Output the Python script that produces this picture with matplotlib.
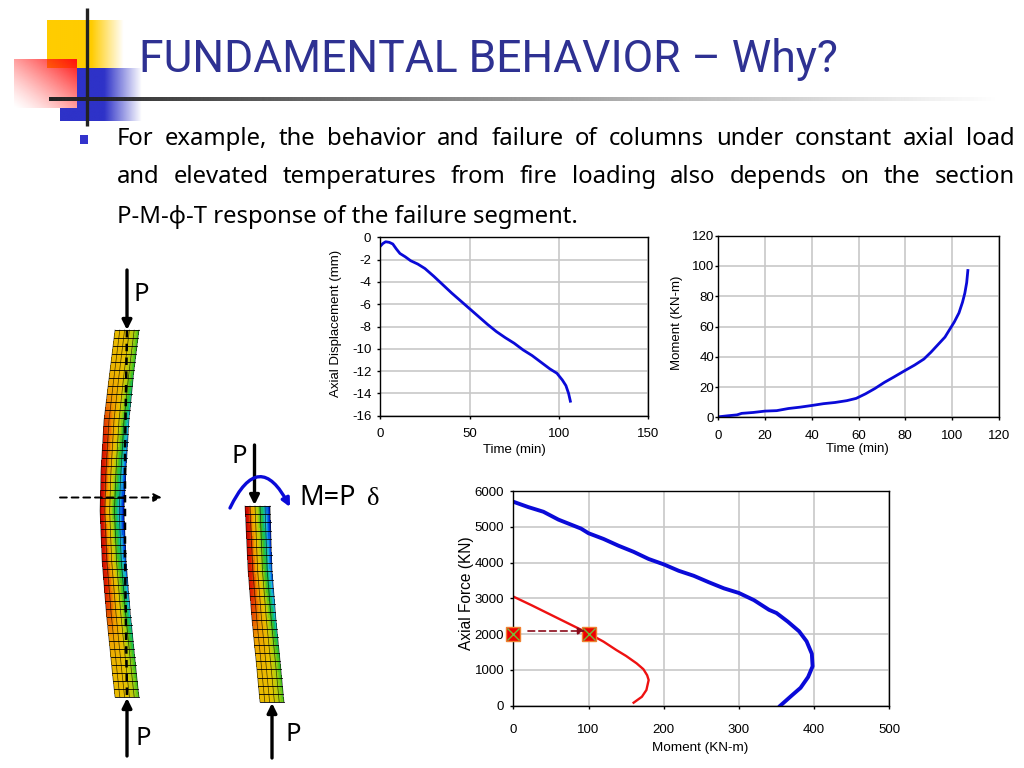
import numpy as np
import matplotlib
matplotlib.use("Agg")
import matplotlib.pyplot as plt
from matplotlib.colors import LinearSegmentedColormap, to_rgb
from matplotlib.patches import FancyArrowPatch

plt.rcParams["axes.unicode_minus"] = False

# chart data
time1 = [0, 1.5, 3, 5, 7, 9, 11, 14, 17, 21, 25, 30, 35, 40, 45, 50, 55, 60, 65, 70, 75, 80, 85, 90, 95, 99, 102, 104, 105.5, 106.5]
axial_disp = [-0.8, -0.55, -0.4, -0.45, -0.6, -1.05, -1.45, -1.75, -2.1, -2.4, -2.8, -3.5, -4.25, -5.0, -5.7, -6.4, -7.1, -7.8, -8.45, -9.0, -9.5, -10.1, -10.6, -11.2, -11.8, -12.2, -12.8, -13.3, -14.0, -14.7]

time2 = [0, 4, 8, 10, 15, 20, 25, 30, 35, 40, 45, 50, 55, 59, 63, 67, 71, 75, 80, 84, 88, 91, 94, 97, 99, 101, 103, 104.5, 105.5, 106.3, 106.8]
moment2 = [0.3, 1, 1.6, 2.6, 3.2, 4.1, 4.4, 5.8, 6.7, 7.8, 9, 9.8, 11, 12.5, 15.5, 19, 23, 26.5, 31, 34.5, 38.5, 43, 48, 53, 58, 63, 69, 76, 82, 89, 97]

blue_m = [0, 20, 40, 60, 90, 100, 120, 140, 160, 180, 200, 220, 240, 260, 280, 300, 320, 340, 350, 365, 380, 390, 397, 398, 392, 382, 370, 355]
blue_p = [5700, 5550, 5420, 5200, 4950, 4820, 4660, 4470, 4300, 4100, 3950, 3770, 3630, 3450, 3280, 3150, 2950, 2680, 2590, 2350, 2080, 1800, 1450, 1100, 800, 500, 280, 0]
red_m = [0, 25, 50, 75, 100, 120, 137, 150, 164, 173, 178, 180, 177, 171, 160]
red_p = [3050, 2800, 2540, 2280, 2020, 1790, 1556, 1390, 1183, 1020, 850, 717, 438, 250, 84]
mark_m = [0, 100]
mark_p = [2000, 2000]

W, H = 1024, 768
BODY = ["Noto Sans", "DejaVu Sans"]
CHART = "Liberation Sans"
LINE_BLUE = "#0a0ad8"
TITLE_BLUE = "#2e3192"

fig = plt.figure(figsize=(W / 100, H / 100), dpi=100, facecolor="white")

# background layer in pixel coordinates (y down) for the slide furniture
bg = fig.add_axes([0, 0, 1, 1])
bg.set_xlim(0, W)
bg.set_ylim(H, 0)
bg.axis("off")


def fade(ax, box, colour, func, z=1):
    # rectangle of one colour whose alpha comes from func(u, v)
    x0, x1, y0, y1 = box
    nx, ny = 120, 120
    u, v = np.meshgrid(np.linspace(0, 1, nx), np.linspace(0, 1, ny))
    img = np.zeros((ny, nx, 4))
    img[..., :3] = to_rgb(colour)
    img[..., 3] = np.clip(func(u, v), 0, 1)
    ax.imshow(img, extent=(x0, x1, y1, y0), aspect="auto", zorder=z, interpolation="bilinear")


fade(bg, (47, 124, 20, 68), "#ffcc00", lambda u, v: np.where(u < 0.58, 1, 1 - (u - 0.58) / 0.42), 1)
fade(bg, (77, 142, 68, 121), "#2e32c8", lambda u, v: np.where(u < 0.42, 1, 1 - (u - 0.42) / 0.58), 2)
fade(bg, (60, 77, 108, 121), "#2e32c8", lambda u, v: 1 + 0 * u, 2)
fade(bg, (14, 77, 59, 108), "#ff1010", lambda u, v: ((u + 1 - v) / 2) ** 1.3, 3)
fade(bg, (49, 1024, 97, 101), "#222222", lambda u, v: 1 - u ** 0.9 * 1.02, 4)
bg.plot([87, 87], [8, 126], color="#222222", lw=2.4, zorder=5, solid_capstyle="butt")
bg.fill([80, 88, 88, 80], [135, 135, 144, 144], color="#3333cc", lw=0, zorder=5)
bg.set_xlim(0, W)
bg.set_ylim(H, 0)

bg.text(139, 72, "FUNDAMENTAL BEHAVIOR – Why?", family="Roboto", fontsize=32, color=TITLE_BLUE, va="baseline")


def justified(ax, line, x0, x1, y, size):
    # place the words one by one so the line fills x0..x1
    rend = fig.canvas.get_renderer()
    words = line.split()
    items = [ax.text(x0, y, w, family=BODY, fontsize=size, color="black", va="baseline") for w in words]
    widths = [t.get_window_extent(rend).width for t in items]
    gap = (x1 - x0 - sum(widths)) / (len(words) - 1)
    x = x0
    for t, w in zip(items, widths):
        t.set_x(x)
        x += w + gap


justified(bg, "For example, the behavior and failure of columns under constant axial load", 117, 1015, 145, 17.2)
justified(bg, "and elevated temperatures from fire loading also depends on the section", 117, 1015, 183, 17.2)
bg.text(117, 223, "P-M-ϕ-T response of the failure segment.", family=BODY, fontsize=17.2, color="black", va="baseline")

# the two deformed FE columns
fire = LinearSegmentedColormap.from_list(
    "fire",
    ["#0000b0", "#0050e0", "#20b8e0", "#10c070", "#40c020", "#a8d010", "#e8c000", "#f0a000", "#e02000", "#c00000"],
)


def column(ax, ys, left, right, sev, grid_rows, grid_cols=5):
    nrow = grid_rows * 3
    ncol = grid_cols * 4
    yy = np.linspace(ys[0], ys[-1], nrow + 1)
    xl = np.interp(yy, ys, left)
    xr = np.interp(yy, ys, right)
    uu = np.linspace(0, 1, ncol + 1)
    X = xl[:, None] + (xr - xl)[:, None] * uu[None, :]
    Y = np.repeat(yy[:, None], ncol + 1, axis=1)
    s = np.interp((yy[:-1] + yy[1:]) / 2, ys, sev)[:, None]
    uc = ((uu[:-1] + uu[1:]) / 2)[None, :]
    lo = 0.68 + 0.32 * s
    hi = 0.45 * (1 - s)
    # the band stays yellow further across where the section is still cool
    val = lo + (hi - lo) * uc ** (1.1 + 2.0 * (1 - s))
    ax.pcolormesh(X, Y, val, cmap=fire, vmin=0, vmax=1, zorder=2, linewidth=0, rasterized=True)
    for i in range(0, nrow + 1, 3):
        ax.plot(X[i], Y[i], color="black", lw=0.6, zorder=3)
    for j in range(0, ncol + 1, 4):
        ax.plot(X[:, j], Y[:, j], color="black", lw=0.5, zorder=3, alpha=0.7)


col1_y = [330, 370, 420, 470, 510, 560, 610, 660, 697]
col1_l = [115, 110, 104, 101, 100, 102, 106, 111, 115]
col1_r = [139, 134, 129, 126, 124, 126, 130, 135, 139]
col1_s = [0.0, 0.1, 0.55, 0.85, 1.0, 0.85, 0.55, 0.1, 0.0]
column(bg, col1_y, col1_l, col1_r, col1_s, 46)

col2_y = [506, 570, 620, 660, 702]
col2_l = [245, 248, 252, 256, 260]
col2_r = [270, 272, 276, 280, 284]
col2_s = [1.0, 0.8, 0.5, 0.1, 0.0]
column(bg, col2_y, col2_l, col2_r, col2_s, 24)


def arrow(ax, a, b, lw=2.4, colour="black", style="-|>", scale=14, ls="-"):
    ax.add_patch(FancyArrowPatch(a, b, arrowstyle=style, mutation_scale=scale, lw=lw, color=colour,
                                 linestyle=ls, shrinkA=0, shrinkB=0, zorder=6))


arrow(bg, (127, 270), (127, 330))
arrow(bg, (127, 756), (127, 698))
arrow(bg, (254.5, 445), (254.5, 505))
arrow(bg, (272, 758), (272, 703))
bg.plot([127, 125, 125, 127], [330, 450, 560, 697], color="black", lw=1.8, ls=(0, (3, 2.5)), zorder=5)
arrow(bg, (60, 497.5), (162, 497.5), lw=1.4, ls=(0, (3.5, 2.5)), scale=12)
arc = FancyArrowPatch((230, 508), (290, 507), connectionstyle="arc3,rad=-1.0", arrowstyle="-|>",
                      mutation_scale=12, lw=2.4, color="#0a0ad8", shrinkA=0, shrinkB=0, zorder=6)
bg.add_patch(arc)

for px, py, s in [(133, 301, "P"), (135, 745, "P"), (232, 463, "P"), (285, 741, "P")]:
    bg.text(px, py, s, family=BODY, fontsize=18.5, va="baseline")
bg.text(299, 505, "M=P", family=BODY, fontsize=19.5, va="baseline")
bg.text(367, 505, "δ", family="Liberation Serif", fontsize=19, va="baseline")


def chart_axes(l, r, t, b, xpad, ypad):
    ax = fig.add_axes([l / W, 1 - b / H, (r - l) / W, (b - t) / H])
    ax.set_facecolor("none")
    ax.grid(True, color="#c8c8c8", lw=1.2)
    ax.set_axisbelow(True)
    for sp in ax.spines.values():
        sp.set_color("black")
        sp.set_linewidth(1.0)
    ax.tick_params(length=2.5, width=1, labelsize=9.5)
    ax.tick_params(axis="x", pad=xpad)
    ax.tick_params(axis="y", pad=ypad)
    for lab in ax.get_xticklabels() + ax.get_yticklabels():
        lab.set_family(CHART)
    return ax


def labels(ax, box, xlabel, xpos, ylabel, ypos, xsize=9.5, ysize=9.5):
    # label centres given in slide pixels
    l, r, t, b = box
    ax.set_xlabel(xlabel, family=CHART, fontsize=xsize, va="center")
    ax.set_ylabel(ylabel, family=CHART, fontsize=ysize, va="center")
    ax.xaxis.set_label_coords((xpos[0] - l) / (r - l), (b - xpos[1]) / (b - t))
    ax.yaxis.set_label_coords((ypos[0] - l) / (r - l), (b - ypos[1]) / (b - t))


box1 = (380.3, 648, 237.3, 415.7)
ax1 = chart_axes(*box1, 6.5, 4)
ax1.plot(time1, axial_disp, color=LINE_BLUE, lw=2.0)
ax1.set_xlim(0, 150)
ax1.set_ylim(-16, 0)
ax1.set_xticks(range(0, 151, 50))
ax1.set_yticks(range(-16, 1, 2))
labels(ax1, box1, "Time (min)", (514, 450), "Axial Displacement (mm)", (336, 323))

box2 = (718.3, 998.7, 235.7, 417.3)
ax2 = chart_axes(*box2, 7, 0.5)
ax2.plot(time2, moment2, color=LINE_BLUE, lw=2.0)
ax2.set_xlim(0, 120)
ax2.set_ylim(0, 120)
ax2.set_xticks(range(0, 121, 20))
ax2.set_yticks(range(0, 121, 20))
labels(ax2, box2, "Time (min)", (857, 449), "Moment (KN-m)", (677, 323))

box3 = (513.3, 889.3, 491, 705.7)
ax3 = chart_axes(*box3, 11, 4)
ax3.plot(blue_m, blue_p, color=LINE_BLUE, lw=2.8)
ax3.plot(red_m, red_p, color="#ee1111", lw=1.7)
ax3.plot(mark_m, mark_p, ls="none", marker="s", ms=10, mfc="#ee0000", mec="#f08030", mew=1, clip_on=False, zorder=5)
ax3.plot(mark_m, mark_p, ls="none", marker="x", ms=8, mec="#78b838", mew=1.0, clip_on=False, zorder=6)
ax3.set_xlim(0, 500)
ax3.set_ylim(0, 6000)
ax3.set_xticks(range(0, 501, 100))
ax3.set_yticks(range(0, 6001, 1000))
labels(ax3, box3, "Moment (KN-m)", (700, 748), "Axial Force (KN)", (466, 593), xsize=9.7, ysize=11.2)

# arrow from the axis point to the curve point, over the chart
top = fig.add_axes([0, 0, 1, 1])
top.set_xlim(0, W)
top.set_ylim(H, 0)
top.axis("off")
top.patch.set_alpha(0)
arrow(top, (528, 631), (585, 631), lw=1.2, colour="#8b0a1a", ls=(0, (4, 2.5)), scale=10)

fig.savefig("out.png", dpi=100)
